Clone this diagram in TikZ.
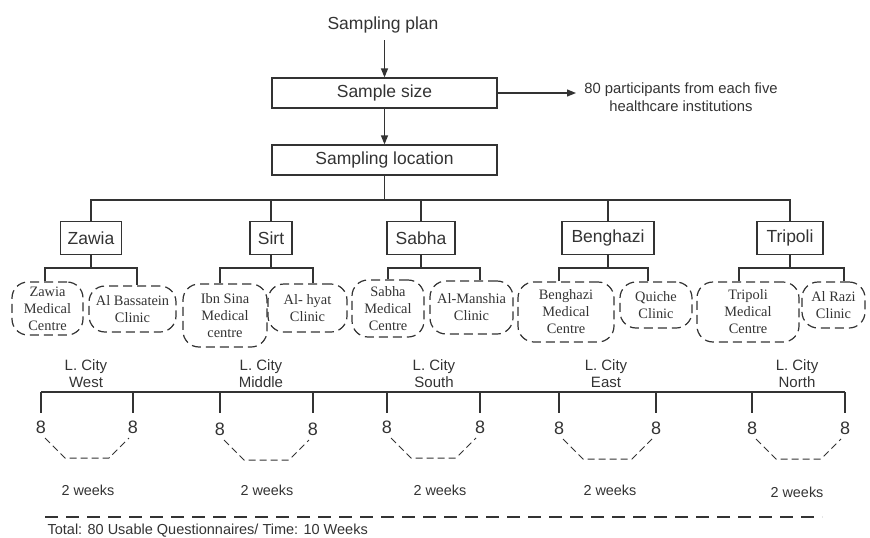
\documentclass[tikz,border=0pt]{standalone}
\usepackage{fontspec}
\setmainfont{Liberation Sans}
\newfontfamily\serifx{Liberation Serif}
\usetikzlibrary{arrows.meta,calc}
\definecolor{ink}{HTML}{333333}
\begin{document}
\begin{tikzpicture}[x=1pt,y=-1pt, line width=1.2pt, color=ink,
  mainbox/.style={draw, minimum height=30pt, minimum width=225pt, inner sep=0pt, font=\fontsize{17.5}{20}\selectfont},
  citybox/.style={draw, minimum height=33pt, inner sep=0pt, font=\fontsize{17.5}{20}\selectfont},
  site/.style={draw, dash pattern=on 9pt off 5pt, rounded corners=16pt, inner sep=0pt, align=center, font=\serifx\fontsize{14.4}{17}\selectfont},
  arr/.style={-{Triangle[length=9pt,width=7pt]}},
  lc/.style={align=center, inner sep=0pt, font=\fontsize{15}{17}\selectfont},
  eight/.style={inner sep=0pt, font=\fontsize{18}{20}\selectfont},
  wk/.style={inner sep=0pt, font=\fontsize{14.4}{16}\selectfont},
  trap/.style={line width=1pt, dash pattern=on 7pt off 4pt},
  txt/.style={inner sep=0pt, align=center}
]
\useasboundingbox (0,0) rectangle (870,538);

% top
\node[txt, font=\fontsize{17.5}{20}\selectfont] (plan) at (383,25) {Sampling plan};
\node[mainbox] (size) at (384.5,93) {Sample size};
\node[mainbox] (loc) at (384.5,160) {Sampling location};
\node[txt, font=\fontsize{14.8}{18}\selectfont] (note) at (681,97) {80 participants from each five\\healthcare institutions};
\coordinate (ntip) at (576,93);
\draw[arr] (384.5,40) -- (size.north);
\draw[arr] (size.south) -- (loc.north);
\draw[arr] (size.east) -- (ntip);

% cities
\node[citybox, minimum width=61pt] (zawia) at (91,238) {Zawia};
\node[citybox, minimum width=42pt] (sirt) at (271,238) {Sirt};
\node[citybox, minimum width=68pt] (sabha) at (421,238) {Sabha};
\node[citybox, minimum width=92pt] (benghazi) at (608,238) {Benghazi};
\node[citybox, minimum width=66pt] (tripoli) at (790,238) {Tripoli};

\coordinate (bus) at (384.5,200);
\draw (loc.south) -- (bus);
\draw (zawia.north) |- (bus) -| (tripoli.north);
\draw (sirt.north) -- (sirt.north |- bus);
\draw (sabha.north) -- (sabha.north |- bus);
\draw (benghazi.north) -- (benghazi.north |- bus);

% sites
\node[site, minimum width=71pt, minimum height=53pt] (zmc) at (47.5,308.5) {Zawia\\Medical\\Centre};
\node[site, minimum width=87pt, minimum height=46pt] (abc) at (132.5,309) {Al Bassatein\\Clinic};
\node[site, minimum width=84pt, minimum height=63pt] (isn) at (225,315.5) {Ibn Sina\\Medical\\centre};
\node[site, minimum width=79pt, minimum height=48pt] (ahc) at (307.5,308) {Al- hyat\\Clinic};
\node[site, minimum width=72pt, minimum height=57pt] (smc) at (388,308.5) {Sabha\\Medical\\Centre};
\node[site, minimum width=83pt, minimum height=53pt] (amc) at (471.5,307.5) {Al-Manshia\\Clinic};
\node[site, minimum width=96pt, minimum height=60pt] (bmc) at (566,312) {Benghazi\\Medical\\Centre};
\node[site, minimum width=72pt, minimum height=46pt] (qc) at (656,305) {Quiche\\Clinic};
\node[site, minimum width=102pt, minimum height=60pt] (tmc) at (748,312) {Tripoli\\Medical\\Centre};
\node[site, minimum width=63pt, minimum height=46pt] (arc) at (833.5,305) {Al Razi\\Clinic};

\foreach \c/\l/\r/\lx/\rx in {zawia/zmc/abc/45/137, sirt/isn/ahc/220/313, sabha/smc/amc/388/480, benghazi/bmc/qc/559/648, tripoli/tmc/arc/739/844}{
  \draw (\c.south) -- (\c.south |- 0,268);
  \draw (\l.north -| \lx,0) |- (\c.south |- 0,268) -| (\r.north -| \rx,0);
}

% L. City labels
\node[lc] (lw) at (86,373.5) {L. City\\West};
\node[lc] (lm) at (261,373.5) {L. City\\Middle};
\node[lc] (ls) at (434,373.5) {L. City\\South};
\node[lc] (le) at (606,373.5) {L. City\\East};
\node[lc] (ln) at (797,373.5) {L. City\\North};

% eights
\node[eight] (e1) at (41,427) {8};
\node[eight] (e2) at (133,427) {8};
\node[eight] (e3) at (220,429) {8};
\node[eight] (e4) at (313,429) {8};
\node[eight] (e5) at (387,427) {8};
\node[eight] (e6) at (480,427) {8};
\node[eight] (e7) at (559,428) {8};
\node[eight] (e8) at (656,428) {8};
\node[eight] (e9) at (752,428) {8};
\node[eight] (e10) at (845,428) {8};

\draw (e1.north |- 0,392) -- (e10.north |- 0,392);
\foreach \i in {1,...,10}{
  \draw (e\i.north |- 0,392) -- (e\i.north |- 0,413);
}
\foreach \a/\b in {e1/e2, e3/e4, e5/e6, e7/e8, e9/e10}{
  \draw[trap] ($(\a)+(4,11)$) -- ($(\a)+(24,31)$) -- ($(\b)+(-24,31)$) -- ($(\b)+(-4,11)$);
}

% weeks
\node[wk] (w1) at (88,490) {2 weeks};
\node[wk] (w2) at (267,490) {2 weeks};
\node[wk] (w3) at (440,490) {2 weeks};
\node[wk] (w4) at (610,490) {2 weeks};
\node[wk] (w5) at (797,492) {2 weeks};

% total
\coordinate (tl) at (45,517);
\coordinate (tr) at (822,517);
\draw[line width=2.4pt, dash pattern=on 13pt off 8pt] (tl) -- (tr);
\node[inner sep=0pt, anchor=west, font=\fontsize{14.5}{16}\selectfont] (total) at (47,531) {Total: 80 Usable Questionnaires/ Time: 10 Weeks};
\end{tikzpicture}
\end{document}
